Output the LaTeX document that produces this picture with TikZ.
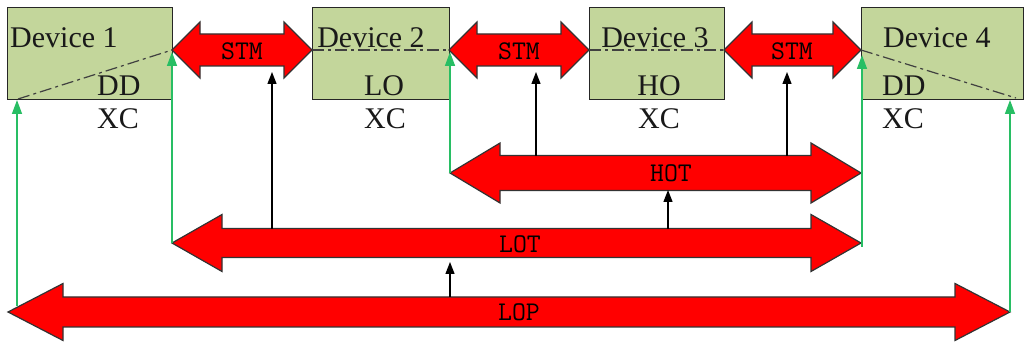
\documentclass[tikz,border=0pt]{standalone}
\usepackage{fontspec}
\setmainfont{Liberation Serif}
\usetikzlibrary{arrows.meta}
\definecolor{boxgreen}{HTML}{C3D69B}
\definecolor{lgreen}{RGB}{40,190,100}
\tikzset{
 devbox/.style={draw=black!85, line width=1.3pt, fill=boxgreen, anchor=north west, inner sep=0pt},
 devlabel/.style={font=\fontsize{30}{36}\selectfont, inner sep=0pt, text=black!90},
 dashdot/.style={draw=black!75, line width=1.2pt, dash pattern=on 12pt off 4pt on 3pt off 4pt},
 barrow/.style={fill=red, draw=black!80, line width=1.2pt, line join=miter},
 blabel/.style={font=\ttfamily\fontsize{27}{30}\selectfont, inner sep=0pt},
 uparr/.style={draw=black, line width=1.3pt, -{Triangle[width=9pt,length=12pt]}},
 grarr/.style={draw=lgreen, line width=1.5pt, -{Triangle[width=10pt,length=14pt]}},
}
\newcommand\blockarrow[6]{%
 \draw[barrow] (#1,#3) -- ({#1+#6},{#3-#5}) -- ({#1+#6},{#3-#4}) -- ({#2-#6},{#3-#4}) -- ({#2-#6},{#3-#5}) -- (#2,#3) -- ({#2-#6},{#3+#5}) -- ({#2-#6},{#3+#4}) -- ({#1+#6},{#3+#4}) -- ({#1+#6},{#3+#5}) -- cycle;}
\begin{document}
\begin{tikzpicture}[x=1pt,y=-1pt]
\useasboundingbox (0,0) rectangle (1025,344);
% devices
\node[devbox, minimum width=165pt, minimum height=92pt] (d1) at (7,7) {};
\node[devbox, minimum width=137pt, minimum height=92pt] (d2) at (312,7) {};
\node[devbox, minimum width=135pt, minimum height=92pt] (d3) at (589,7) {};
\node[devbox, minimum width=162pt, minimum height=92pt] (d4) at (861,7) {};
% dash-dot lines
\coordinate (d1a) at (18,99); \coordinate (d1b) at (172,50);
\coordinate (d2a) at (312,50); \coordinate (d2b) at (449,50);
\coordinate (d3a) at (589,50); \coordinate (d3b) at (724,50);
\coordinate (d4a) at (861,50); \coordinate (d4b) at (1016,98);
\draw[dashdot] (d1a) -- (d1b);
\draw[dashdot] (d2a) -- (d2b);
\draw[dashdot] (d3a) -- (d3b);
\draw[dashdot] (d4a) -- (d4b);
% device texts
\node[devlabel, anchor=base west] (t1) at (10,48) {Device 1};
\node[devlabel, anchor=base west] (t1b) at (97,96) {DD};
\node[devlabel, anchor=base west] (t1c) at (97,129) {XC};
\node[devlabel, anchor=base] (t2) at (371,48) {Device 2};
\node[devlabel, anchor=base] (t2b) at (384,96) {LO};
\node[devlabel, anchor=base] (t2c) at (385,129) {XC};
\node[devlabel, anchor=base] (t3) at (655,48) {Device 3};
\node[devlabel, anchor=base] (t3b) at (659,96) {HO};
\node[devlabel, anchor=base] (t3c) at (659,129) {XC};
\node[devlabel, anchor=base west] (t4) at (883,48) {Device 4};
\node[devlabel, anchor=base west] (t4b) at (882,96) {DD};
\node[devlabel, anchor=base west] (t4c) at (882,129) {XC};
% block arrows
\blockarrow{172}{312}{50}{16}{28}{28}
\blockarrow{449}{589}{50}{16}{28}{28}
\blockarrow{724}{861}{50}{16}{28}{28}
\blockarrow{450}{861}{173}{17.5}{30}{50}
\blockarrow{172}{861}{243}{14.5}{28.5}{50}
\blockarrow{8}{1010}{312}{15}{28.5}{55}
\node[blabel] (stm1) at (242,51) {STM};
\node[blabel] (stm2) at (519,51) {STM};
\node[blabel] (stm3) at (792,51) {STM};
\node[blabel] (hot) at (671,173) {HOT};
\node[blabel] (lot) at (520,244) {LOT};
\node[blabel] (lop) at (519,312) {LOP};
% black arrows
\coordinate (a1s) at (272,229); \coordinate (a1e) at (272,72);
\coordinate (a2s) at (536,156); \coordinate (a2e) at (536,72);
\coordinate (a3s) at (787,156); \coordinate (a3e) at (787,72);
\coordinate (a4s) at (668,229); \coordinate (a4e) at (668,190);
\coordinate (a5s) at (450,297); \coordinate (a5e) at (450,262);
\draw[uparr] (a1s) -- (a1e);
\draw[uparr] (a2s) -- (a2e);
\draw[uparr] (a3s) -- (a3e);
\draw[uparr] (a4s) -- (a4e);
\draw[uparr] (a5s) -- (a5e);
% green arrows
\coordinate (g1s) at (17,306); \coordinate (g1e) at (17,100);
\coordinate (g2s) at (172,243); \coordinate (g2e) at (172,52);
\coordinate (g3s) at (450,173); \coordinate (g3e) at (450,52);
\coordinate (g4s) at (862,247); \coordinate (g4e) at (862,55);
\coordinate (g5s) at (1010,312); \coordinate (g5e) at (1010,100);
\draw[grarr] (g1s) -- (g1e);
\draw[grarr] (g2s) -- (g2e);
\draw[grarr] (g3s) -- (g3e);
\draw[grarr] (g4s) -- (g4e);
\draw[grarr] (g5s) -- (g5e);
\end{tikzpicture}
\end{document}
